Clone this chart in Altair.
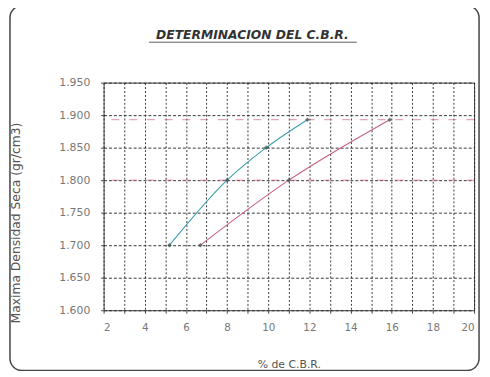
import altair as alt
import pandas as pd

# Data
blue_cbr = [5.2, 8.0, 9.9, 11.9]
blue_dens = [1.700, 1.800, 1.850, 1.893]
red_cbr = [6.7, 11.0, 15.9]
red_dens = [1.700, 1.800, 1.893]
ref_levels = [1.800, 1.893]
x_ticks = list(range(2, 21))
y_ticks = [1.60, 1.65, 1.70, 1.75, 1.80, 1.85, 1.90, 1.95]

df = pd.DataFrame({
    "cbr": blue_cbr + red_cbr,
    "dens": blue_dens + red_dens,
    "serie": ["A"] * len(blue_cbr) + ["B"] * len(red_cbr),
})
ref_df = pd.DataFrame({"dens": ref_levels})

W, H = 376, 231
FONT = "DejaVu Sans"

xsc = alt.Scale(domain=[2, 20], nice=False, zero=False)
ysc = alt.Scale(domain=[1.60, 1.95], nice=False, zero=False)
color = alt.Color("serie:N", scale=alt.Scale(domain=["A", "B"], range=["#3a9fb0", "#c8607a"]), legend=None)

xaxis = alt.Axis(
    values=x_ticks, labelExpr="datum.value % 2 == 0 ? datum.label : ''",
    title="% de C.B.R.", titleFont=FONT, titleFontSize=11, titleFontWeight="normal",
    titleColor="#555", titleY=49,
    labelFont=FONT, labelFontSize=10.5, labelColor="#777", labelPadding=10,
    grid=True, gridColor="#222", gridDash=[2, 2], gridOpacity=0.9,
    domain=False, tickSize=3, tickColor="#444",
)
yaxis = alt.Axis(
    values=y_ticks, format=".3f",
    title="Maxima Densidad Seca (gr/cm3)", titleFont=FONT, titleFontSize=12.5,
    titleFontWeight="normal", titleColor="#555", titleX=-82, titleY=142,
    labelFont=FONT, labelFontSize=11, labelColor="#777", labelPadding=11,
    grid=True, gridColor="#222", gridDash=[3, 2], gridOpacity=0.9,
    domain=False, tickSize=3, tickColor="#444",
)

base = alt.Chart(df)

lines = base.mark_line(interpolate="monotone", strokeWidth=1.1).encode(
    x=alt.X("cbr:Q", scale=xsc, axis=xaxis),
    y=alt.Y("dens:Q", scale=ysc, axis=yaxis),
    color=color,
)

points = base.mark_point(shape="diamond", filled=True, size=22, color="#3a4a50").encode(
    x=alt.X("cbr:Q", scale=xsc, axis=xaxis), y=alt.Y("dens:Q", scale=ysc, axis=yaxis),
)

refs = alt.Chart(ref_df).mark_rule(color="#d0607a", strokeDash=[8, 10], strokeWidth=1, opacity=0.7).encode(
    y=alt.Y("dens:Q", scale=ysc, axis=yaxis),
)

title = alt.Chart(pd.DataFrame({"t": ["DETERMINACION  DEL  C.B.R."]})).mark_text(
    font=FONT, fontSize=12.5, fontWeight="bold", fontStyle="italic", color="#333",
    align="center", baseline="middle",
).encode(text="t:N", x=alt.value(151), y=alt.value(-48))

underline = alt.Chart(pd.DataFrame({"a": [0]})).mark_rule(color="#333", strokeWidth=0.8).encode(
    x=alt.value(46), x2=alt.value(257), y=alt.value(-41),
)

frame = alt.Chart(pd.DataFrame({"a": [0]})).mark_rect(
    filled=False, stroke="#444", strokeWidth=1.5, cornerRadius=12,
).encode(x=alt.value(-95), x2=alt.value(381), y=alt.value(-78), y2=alt.value(292))

chart = alt.layer(frame, lines, refs, points, title, underline).properties(
    width=W, height=H,
    autosize=alt.AutoSizeParams(type="none"),
    padding={"left": 97, "top": 73, "right": 8, "bottom": 64},
    background="white",
).configure_view(stroke="#444", strokeWidth=1)

chart.save("out.html", embed_options={"renderer": "svg", "actions": False})
